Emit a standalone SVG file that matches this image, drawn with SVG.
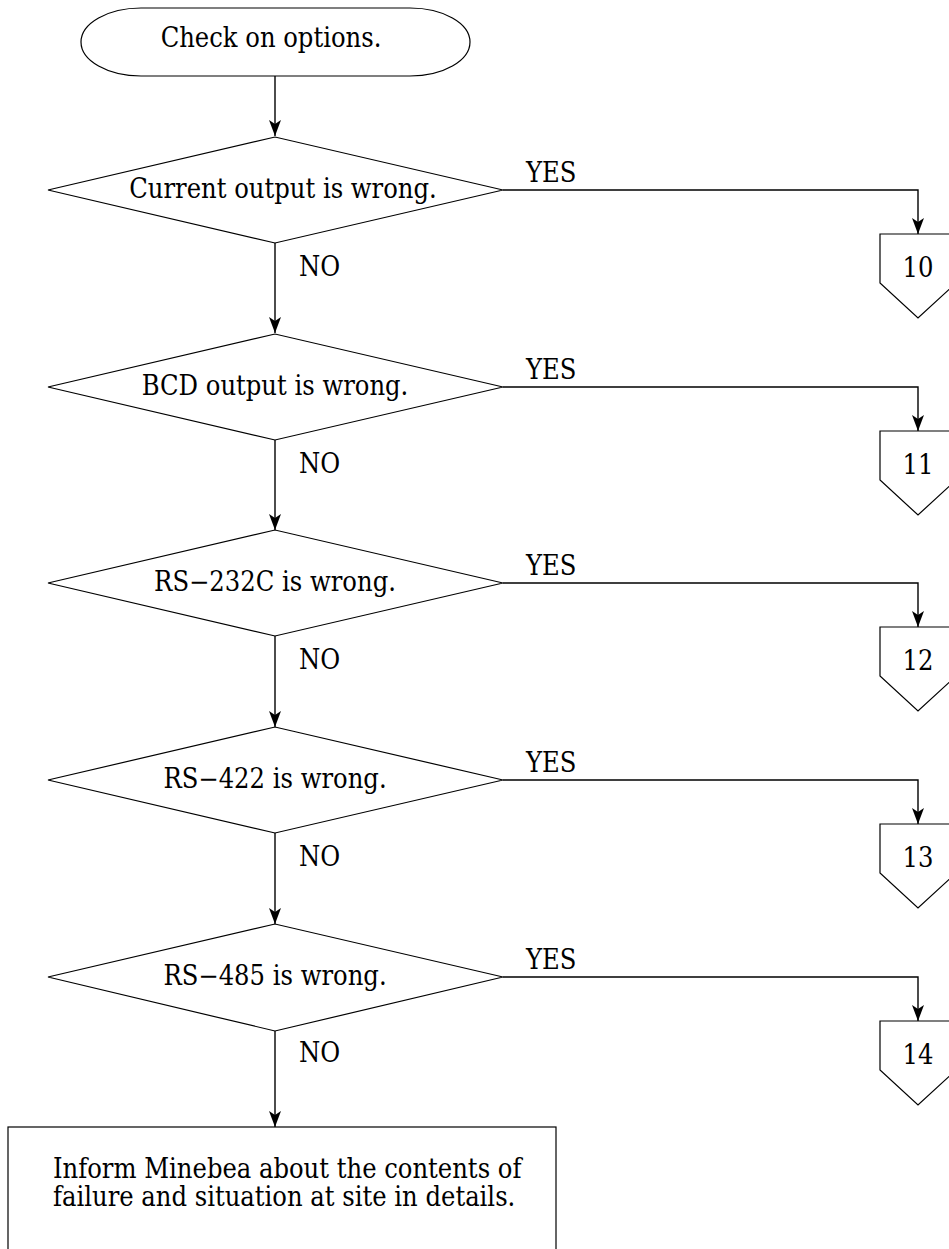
<svg xmlns="http://www.w3.org/2000/svg" width="949" height="1249" viewBox="0 0 949 1249">
<defs>
<marker id="arr" viewBox="0 0 16 12" refX="16" refY="6" markerWidth="16" markerHeight="12" markerUnits="userSpaceOnUse" orient="auto">
<path d="M0,0 L16,6 L0,12 L4,6 z" fill="#000"/>
</marker>
<style>
.s{fill:#fff;stroke:#000;stroke-width:1.2}
.c{fill:none;stroke:#000;stroke-width:1.4}
text{font-family:"DejaVu Serif Condensed","DejaVu Serif","Liberation Serif",serif;font-stretch:condensed;font-size:27px;fill:#000}
.m{text-anchor:middle}
</style>
</defs>
<rect width="949" height="1249" fill="#fff"/>
<g id="connectors">
<path class="c" d="M275,76 V136" marker-end="url(#arr)"/>
<path class="c" d="M275,243 V333" marker-end="url(#arr)"/>
<path class="c" d="M275,440 V530" marker-end="url(#arr)"/>
<path class="c" d="M275,636 V727" marker-end="url(#arr)"/>
<path class="c" d="M275,833 V924" marker-end="url(#arr)"/>
<path class="c" d="M275,1031 V1127" marker-end="url(#arr)"/>
<path class="c" d="M503,190 H918 V234" marker-end="url(#arr)"/>
<path class="c" d="M503,387 H918 V431" marker-end="url(#arr)"/>
<path class="c" d="M503,583 H918 V627" marker-end="url(#arr)"/>
<path class="c" d="M503,780 H918 V824" marker-end="url(#arr)"/>
<path class="c" d="M503,977 H918 V1021" marker-end="url(#arr)"/>
<text x="526" y="182">YES</text>
<text x="526" y="379">YES</text>
<text x="526" y="575">YES</text>
<text x="526" y="772">YES</text>
<text x="526" y="969">YES</text>
<text x="299" y="276">NO</text>
<text x="299" y="473">NO</text>
<text x="299" y="669">NO</text>
<text x="299" y="866">NO</text>
<text x="299" y="1062">NO</text>
</g>
<g id="start">
<rect class="s" x="81" y="8" width="389" height="68" rx="60" ry="34"/>
<text class="m" x="271" y="47">Check on options.</text>
</g>
<g id="d1">
<polygon class="s" points="48,190 275,137 503,190 275,243"/>
<text class="m" x="283" y="198">Current output is wrong.</text>
</g>
<g id="d2">
<polygon class="s" points="48,387 275,334 503,387 275,440"/>
<text class="m" x="275" y="395">BCD output is wrong.</text>
</g>
<g id="d3">
<polygon class="s" points="48,583 275,530 503,583 275,636"/>
<text class="m" x="275" y="591">RS−232C is wrong.</text>
</g>
<g id="d4">
<polygon class="s" points="48,780 275,727 503,780 275,833"/>
<text class="m" x="275" y="788">RS−422 is wrong.</text>
</g>
<g id="d5">
<polygon class="s" points="48,977 275,924 503,977 275,1031"/>
<text class="m" x="275" y="985">RS−485 is wrong.</text>
</g>
<g id="p10">
<polygon class="s" points="880,234 956,234 956,283 918,318 880,283"/>
<text class="m" x="918" y="277">10</text>
</g>
<g id="p11">
<polygon class="s" points="880,431 956,431 956,480 918,515 880,480"/>
<text class="m" x="918" y="474">11</text>
</g>
<g id="p12">
<polygon class="s" points="880,627 956,627 956,676 918,711 880,676"/>
<text class="m" x="918" y="670">12</text>
</g>
<g id="p13">
<polygon class="s" points="880,824 956,824 956,873 918,908 880,873"/>
<text class="m" x="918" y="867">13</text>
</g>
<g id="p14">
<polygon class="s" points="880,1021 956,1021 956,1070 918,1105 880,1070"/>
<text class="m" x="918" y="1064">14</text>
</g>
<g id="inform">
<rect class="s" x="8" y="1127" width="548" height="140"/>
<text x="53" y="1178">Inform Minebea about the contents of</text>
<text x="53" y="1206">failure and situation at site in details.</text>
</g>
</svg>
